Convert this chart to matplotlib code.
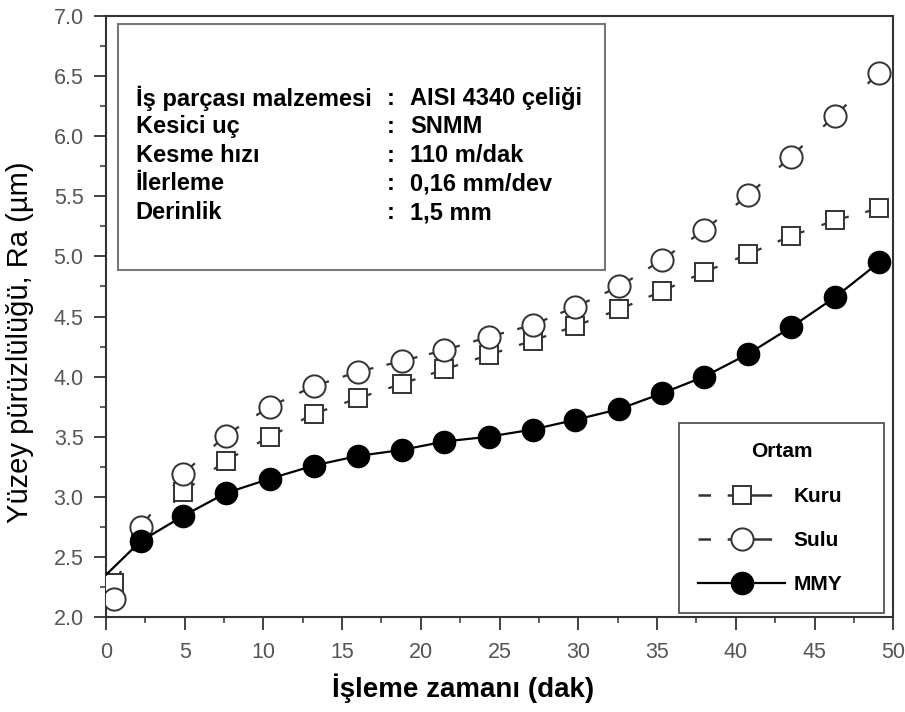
import numpy as np
import matplotlib
matplotlib.use('Agg')
import matplotlib.pyplot as plt
from matplotlib.patches import Rectangle
from matplotlib.lines import Line2D
from matplotlib.ticker import MultipleLocator, FormatStrFormatter

plt.rcParams['font.family'] = ['Liberation Sans', 'DejaVu Sans']
plt.rcParams['lines.scale_dashes'] = False

# time (dak)
t = [0.5, 2.2, 4.9, 7.6, 10.4, 13.2, 16.0, 18.8, 21.5, 24.3,
     27.1, 29.8, 32.6, 35.3, 38.0, 40.8, 43.5, 46.3, 49.1]
kuru = [2.28, 2.65, 3.04, 3.30, 3.50, 3.69, 3.82, 3.94, 4.06, 4.18,
        4.30, 4.42, 4.56, 4.71, 4.87, 5.02, 5.17, 5.30, 5.40]
sulu = [2.15, 2.75, 3.19, 3.51, 3.75, 3.92, 4.04, 4.13, 4.22, 4.33,
        4.43, 4.58, 4.75, 4.97, 5.22, 5.51, 5.83, 6.17, 6.53]
# MMY curve starts at the axis (no marker there)
t_mmy = [0.0, 2.2, 4.9, 7.6, 10.4, 13.2, 16.0, 18.8, 21.5, 24.3,
         27.1, 29.8, 32.6, 35.3, 38.0, 40.8, 43.5, 46.3, 49.1]
mmy = [2.35, 2.63, 2.84, 3.03, 3.15, 3.26, 3.34, 3.39, 3.46, 3.50,
       3.56, 3.64, 3.73, 3.86, 4.00, 4.19, 4.41, 4.66, 4.95]

info_keys = ['İş parçası malzemesi', 'Kesici uç', 'Kesme hızı', 'İlerleme', 'Derinlik']
info_vals = ['AISI 4340 çeliği', 'SNMM', '110 m/dak', '0,16 mm/dev', '1,5 mm']

fig = plt.figure(figsize=(9.05, 7.12), dpi=100)
ax = fig.add_axes([0.117, 0.1334, 0.870, 0.8441])
ax.set_xlim(0, 50)
ax.set_ylim(2.0, 7.0)

ec = '#333333'


# dashed connector: short stubs sticking out of each marker, gap in the middle
def stub_line(x, y, r, stub=3.5):
    pts = ax.transData.transform(np.column_stack([x, y]))
    for i in range(len(x) - 1):
        seg = np.hypot(*(pts[i + 1] - pts[i])) * 72.0 / fig.dpi
        d = r + stub
        gap = max(seg - 2 * d, 0.5)
        ax.plot(x[i:i + 2], y[i:i + 2], color=ec, lw=1.6, ls=(0, (d, gap)),
                solid_capstyle='butt', dash_capstyle='butt', zorder=2)


stub_line(t, kuru, 6.8)
stub_line(t, sulu, 8.0)
ax.plot(t, kuru, ls='none', marker='s', ms=13.5, mfc='white', mec=ec, mew=1.4, zorder=3)
ax.plot(t, sulu, ls='none', marker='o', ms=16, mfc='white', mec=ec, mew=1.4, zorder=3)
ax.plot(t_mmy, mmy, color='black', lw=1.6, ls='-', marker='o', ms=16,
        mfc='black', mec='black', markevery=list(range(1, len(mmy))), zorder=4)

ax.xaxis.set_major_locator(MultipleLocator(5))
ax.xaxis.set_minor_locator(MultipleLocator(2.5))
ax.yaxis.set_major_locator(MultipleLocator(0.5))
ax.yaxis.set_minor_locator(MultipleLocator(0.25))
ax.yaxis.set_major_formatter(FormatStrFormatter('%.1f'))
ax.tick_params(which='both', direction='out', top=False, right=False,
               colors=ec, labelcolor='#555555')
ax.tick_params(which='major', length=9, width=1.3, labelsize=15.5)
ax.tick_params(which='minor', length=4, width=1.1)
ax.tick_params(axis='x', which='major', pad=9)
ax.tick_params(axis='y', which='major', pad=7)
for s in ax.spines.values():
    s.set_linewidth(1.5)
    s.set_color(ec)

ax.set_xlabel('İşleme zamanı (dak)', fontsize=20, fontweight='bold')
ax.xaxis.set_label_coords(0.454, -0.094)
ax.set_ylabel('Yüzey pürüzlülüğü, Ra (µm)', fontsize=21)
ax.yaxis.set_label_coords(-0.091, 0.458)

# info box
ax.add_patch(Rectangle((0.0152, 0.577), 0.619, 0.410, transform=ax.transAxes,
                       fill=True, facecolor='white', edgecolor='#777777', lw=1.5, zorder=5))
y0 = 0.863
dy = 0.0475
for i, (k, v) in enumerate(zip(info_keys, info_vals)):
    yy = y0 - i * dy
    ax.text(0.038, yy, k, transform=ax.transAxes, fontsize=17, fontweight='bold',
            va='center', ha='left', zorder=6)
    ax.text(0.357, yy, ':', transform=ax.transAxes, fontsize=17, fontweight='bold',
            va='center', ha='left', zorder=6)
    ax.text(0.386, yy, v, transform=ax.transAxes, fontsize=17, fontweight='bold',
            va='center', ha='left', zorder=6)

handles = [
    Line2D([], [], color=ec, lw=1.8, ls=(0, (9, 12, 32, 100)), marker='s', ms=13.5,
           mfc='white', mec=ec, mew=1.4),
    Line2D([], [], color=ec, lw=1.8, ls=(0, (9, 12, 32, 100)), marker='o', ms=16,
           mfc='white', mec=ec, mew=1.4),
    Line2D([], [], color='black', lw=1.6, ls='-', marker='o', ms=16,
           mfc='black', mec='black'),
]
leg = ax.legend(handles, ['Kuru', 'Sulu', 'MMY'], loc='lower left',
                bbox_to_anchor=(0.728, 0.0067, 0.2605, 0.3), mode='expand',
                title='Ortam', fancybox=False, edgecolor='#555555', framealpha=1,
                prop={'weight': 'bold', 'size': 15},
                title_fontproperties={'weight': 'bold', 'size': 15},
                handlelength=4.2, labelspacing=1.2, borderpad=0.9, handletextpad=0.4,
                borderaxespad=0)
leg.get_frame().set_linewidth(1.3)
leg._legend_box.sep = 19
leg.set_zorder(10)

fig.savefig('out.png', dpi=100)
